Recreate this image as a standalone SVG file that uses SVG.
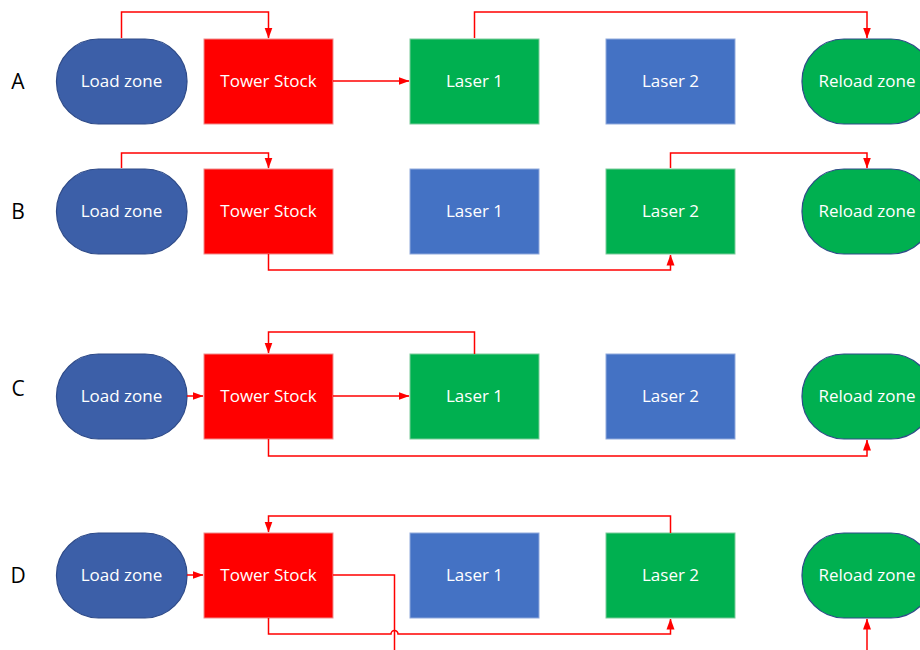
<svg xmlns="http://www.w3.org/2000/svg" width="920" height="650" viewBox="0 0 920 650">
  <defs>
    <marker id="arrow" markerUnits="userSpaceOnUse" markerWidth="11" markerHeight="11" viewBox="0 0 11 11" refX="10.5" refY="5.5" orient="auto">
      <path d="M0,1.5 L11,5.5 L0,9.5 Z" fill="#FF0000"/>
    </marker>
    <style>
      .zone { fill: #3C5FA8; stroke: #2E4A88; stroke-width: 1.2; }
      .zone-g { fill: #00B050; stroke: #2E4A88; stroke-width: 1.2; }
      .stock { fill: #FF0000; stroke: #F08C8C; stroke-width: 1; }
      .laser-b { fill: #4472C4; stroke: #8FA9DC; stroke-width: 1; }
      .laser-g { fill: #00B050; stroke: #7ACB9A; stroke-width: 1; }
      .lbl { font-family: "Open Sans", "Noto Sans", "Liberation Sans", sans-serif; font-size: 17px; fill: #FFFFFF; text-anchor: middle; }
      .row { font-family: "Open Sans", "Noto Sans", "Liberation Sans", sans-serif; font-size: 21px; fill: #000000; text-anchor: middle; }
      .wire { fill: none; stroke: #FF0000; stroke-width: 1.5; }
      .wire.arr { marker-end: url(#arrow); }
    </style>
  </defs>
  <rect width="920" height="650" fill="#FFFFFF"/>

  <!-- row letters -->
  <g id="row-labels">
    <text class="row" x="18" y="89">A</text>
    <text class="row" x="18" y="219">B</text>
    <text class="row" x="18" y="396">C</text>
    <text class="row" x="18" y="583">D</text>
  </g>

  <!-- Row A -->
  <g id="a-load"><rect class="zone" x="56.5" y="39" width="130.5" height="85" rx="42" ry="42"/><text class="lbl" x="121.5" y="87">Load zone</text></g>
  <g id="a-stock"><rect class="stock" x="204" y="39" width="129" height="85"/><text class="lbl" x="268.5" y="87">Tower Stock</text></g>
  <g id="a-laser1"><rect class="laser-g" x="410" y="39" width="129" height="85"/><text class="lbl" x="474.5" y="87">Laser 1</text></g>
  <g id="a-laser2"><rect class="laser-b" x="606" y="39" width="129" height="85"/><text class="lbl" x="670.5" y="87">Laser 2</text></g>
  <g id="a-reload"><rect class="zone-g" x="802" y="39" width="131" height="85" rx="42" ry="42"/><text class="lbl" x="867" y="87">Reload zone</text></g>

  <!-- Row B -->
  <g id="b-load"><rect class="zone" x="56.5" y="169" width="130.5" height="85" rx="42" ry="42"/><text class="lbl" x="121.5" y="217">Load zone</text></g>
  <g id="b-stock"><rect class="stock" x="204" y="169" width="129" height="85"/><text class="lbl" x="268.5" y="217">Tower Stock</text></g>
  <g id="b-laser1"><rect class="laser-b" x="410" y="169" width="129" height="85"/><text class="lbl" x="474.5" y="217">Laser 1</text></g>
  <g id="b-laser2"><rect class="laser-g" x="606" y="169" width="129" height="85"/><text class="lbl" x="670.5" y="217">Laser 2</text></g>
  <g id="b-reload"><rect class="zone-g" x="802" y="169" width="131" height="85" rx="42" ry="42"/><text class="lbl" x="867" y="217">Reload zone</text></g>

  <!-- Row C -->
  <g id="c-load"><rect class="zone" x="56.5" y="354" width="130.5" height="85" rx="42" ry="42"/><text class="lbl" x="121.5" y="402">Load zone</text></g>
  <g id="c-stock"><rect class="stock" x="204" y="354" width="129" height="85"/><text class="lbl" x="268.5" y="402">Tower Stock</text></g>
  <g id="c-laser1"><rect class="laser-g" x="410" y="354" width="129" height="85"/><text class="lbl" x="474.5" y="402">Laser 1</text></g>
  <g id="c-laser2"><rect class="laser-b" x="606" y="354" width="129" height="85"/><text class="lbl" x="670.5" y="402">Laser 2</text></g>
  <g id="c-reload"><rect class="zone-g" x="802" y="354" width="131" height="85" rx="42" ry="42"/><text class="lbl" x="867" y="402">Reload zone</text></g>

  <!-- Row D -->
  <g id="d-load"><rect class="zone" x="56.5" y="533" width="130.5" height="85" rx="42" ry="42"/><text class="lbl" x="121.5" y="581">Load zone</text></g>
  <g id="d-stock"><rect class="stock" x="204" y="533" width="129" height="85"/><text class="lbl" x="268.5" y="581">Tower Stock</text></g>
  <g id="d-laser1"><rect class="laser-b" x="410" y="533" width="129" height="85"/><text class="lbl" x="474.5" y="581">Laser 1</text></g>
  <g id="d-laser2"><rect class="laser-g" x="606" y="533" width="129" height="85"/><text class="lbl" x="670.5" y="581">Laser 2</text></g>
  <g id="d-reload"><rect class="zone-g" x="802" y="533" width="131" height="85" rx="42" ry="42"/><text class="lbl" x="867" y="581">Reload zone</text></g>

  <!-- connectors -->
  <g id="connectors">
    <!-- A -->
    <path class="wire arr" d="M121.5,38 V12 H268.5 V38"/>
    <path class="wire arr" d="M333,81 H409"/>
    <path class="wire arr" d="M474.5,38 V12 H867 V38"/>
    <!-- B -->
    <path class="wire arr" d="M121.5,168 V153 H268.5 V168"/>
    <path class="wire arr" d="M268.5,254 V270 H670.5 V255"/>
    <path class="wire arr" d="M670.5,168 V153 H867 V168"/>
    <!-- C -->
    <path class="wire arr" d="M187,396 H203"/>
    <path class="wire arr" d="M333,396 H409"/>
    <path class="wire arr" d="M474.5,354 V332 H268.5 V353"/>
    <path class="wire arr" d="M268.5,439 V456 H867 V440"/>
    <!-- D -->
    <path class="wire arr" d="M187,575 H203"/>
    <path class="wire arr" d="M670.5,533 V516 H268.5 V532"/>
    <path class="wire arr" d="M268.5,618 V634 H391 A3.5,3.5 0 0 1 398,634 H670.5 V619"/>
    <path class="wire" d="M333,575 H394.5 V650"/>
    <path class="wire arr" d="M867,650 V619"/>
  </g>
</svg>
